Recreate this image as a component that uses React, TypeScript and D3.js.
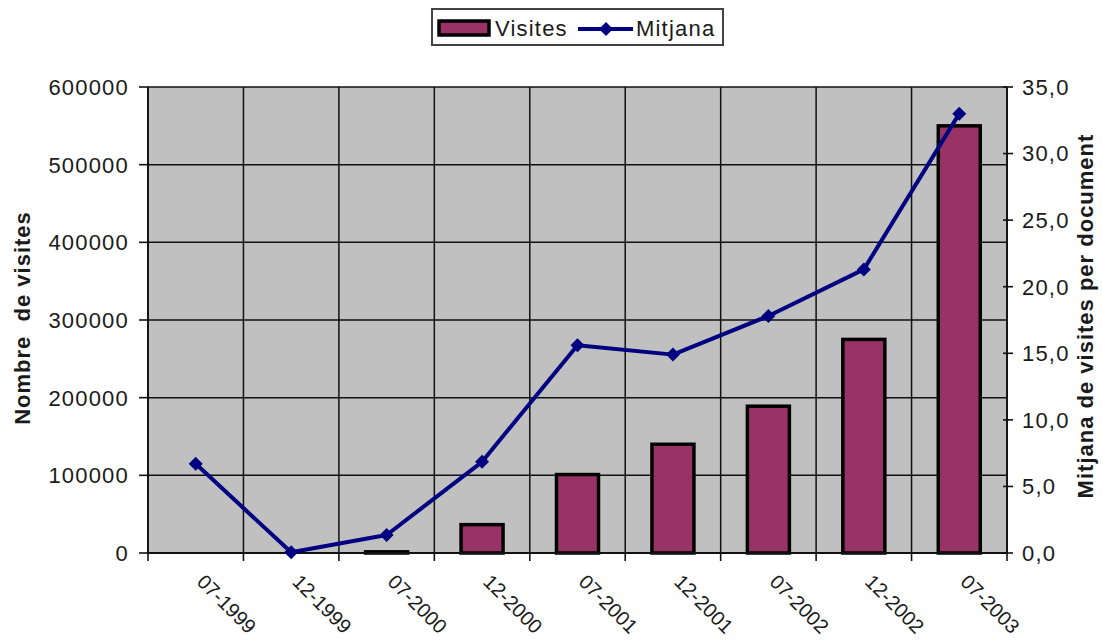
import React from "react";
import * as d3 from "d3";

const categories = ["07-1999", "12-1999", "07-2000", "12-2000", "07-2001", "12-2001", "07-2002", "12-2002", "07-2003"];
const visites: (number | null)[] = [null, null, 1500, 36500, 101000, 140000, 189000, 275000, 550000];
const mitjana = [6.7, 0.05, 1.35, 6.85, 15.6, 14.9, 17.8, 21.3, 33.0];
const leftTicks = [0, 100000, 200000, 300000, 400000, 500000, 600000];
const rightTicks = [0, 5, 10, 15, 20, 25, 30, 35];

const W = 1103, H = 641;
const L = 148, R = 1007, T = 87, B = 553;
const FONT = "'Liberation Sans', Arial, sans-serif";
const TXT = "#1a1a1a";

export default function App() {
  const x = d3.scaleBand<string>().domain(categories).range([L, R]).padding(0);
  const yL = d3.scaleLinear().domain([0, 600000]).range([B, T]);
  const yR = d3.scaleLinear().domain([0, 35]).range([B, T]);
  const bw = x.bandwidth() * 0.44;
  const cx = (c: string) => (x(c) as number) + x.bandwidth() / 2;
  const line = d3
    .line<number>()
    .x((_, i) => cx(categories[i]))
    .y((d) => yR(d));
  const diamond = "M0,-7L7,0L0,7L-7,0Z";
  const fmtR = (v: number) => d3.format(".1f")(v).replace(".", ",");
  const boundaries = categories.map((c) => x(c) as number).concat([R]);

  return (
    <svg width={W} height={H} style={{ position: "absolute", left: 0, top: 0, background: "#fff" }} fontFamily={FONT}>
      <rect x={L} y={T} width={R - L} height={B - T} fill="#c0c0c0" />
      {leftTicks.map((t) => (
        <line key={"h" + t} x1={L} x2={R} y1={yL(t)} y2={yL(t)} stroke="#111" strokeWidth={1.5} />
      ))}
      {boundaries.map((b, i) => (
        <line key={"v" + i} x1={b} x2={b} y1={T} y2={B} stroke="#111" strokeWidth={1.5} />
      ))}
      {categories.map((c, i) => {
        const v = visites[i];
        if (v == null) return null;
        return (
          <rect
            key={"b" + c}
            x={cx(c) - bw / 2}
            y={yL(v)}
            width={bw}
            height={B - yL(v)}
            fill="#993366"
            stroke="#000"
            strokeWidth={3.5}
          />
        );
      })}
      <line x1={L} x2={L} y1={T} y2={B} stroke="#111" strokeWidth={1.8} />
      <line x1={R} x2={R} y1={T} y2={B} stroke="#111" strokeWidth={1.8} />
      <line x1={L} x2={R} y1={B} y2={B} stroke="#111" strokeWidth={1.8} />
      {leftTicks.map((t) => (
        <g key={"lt" + t}>
          <line x1={L - 9} x2={L} y1={yL(t)} y2={yL(t)} stroke="#111" strokeWidth={1.6} />
          <text x={129} y={yL(t)} dy="0.36em" textAnchor="end" fontSize={22} letterSpacing={1.2} fill={TXT}>
            {t}
          </text>
        </g>
      ))}
      {rightTicks.map((t) => (
        <g key={"rt" + t}>
          <line x1={R - 4} x2={R + 6} y1={yR(t)} y2={yR(t)} stroke="#111" strokeWidth={1.6} />
          <text x={1022} y={yR(t)} dy="0.36em" textAnchor="start" fontSize={22} letterSpacing={1.2} fill={TXT}>
            {fmtR(t)}
          </text>
        </g>
      ))}
      {boundaries.map((b, i) => (
        <line key={"bt" + i} x1={b} x2={b} y1={B} y2={B + 8} stroke="#111" strokeWidth={1.6} />
      ))}
      {categories.map((c) => (
        <text
          key={"xl" + c}
          transform={`translate(${cx(c)},${583}) rotate(45)`}
          fontSize={20}
          fill={TXT}
        >
          {c}
        </text>
      ))}
      <path d={line(mitjana) || ""} fill="none" stroke="#000080" strokeWidth={4} strokeLinejoin="round" />
      {mitjana.map((v, i) => (
        <path key={"m" + i} d={diamond} transform={`translate(${cx(categories[i])},${yR(v)})`} fill="#000080" />
      ))}
      <text
        transform={`translate(30,318) rotate(-90)`}
        textAnchor="middle"
        fontSize={22}
        fontWeight="bold"
        letterSpacing={1}
        fill={TXT}
        style={{ whiteSpace: "pre" }}
      >
        {"Nombre  de visites"}
      </text>
      <text
        transform={`translate(1093,316) rotate(-90)`}
        textAnchor="middle"
        fontSize={22}
        fontWeight="bold"
        letterSpacing={1}
        fill={TXT}
      >
        Mitjana de visites per document
      </text>
      <rect x={432} y={9} width={291} height={36} fill="#fff" stroke="#444" strokeWidth={2} />
      <rect x={439} y={21} width={50} height={14} fill="#993366" stroke="#000" strokeWidth={3.5} />
      <text x={495} y={28} dy="0.36em" fontSize={22} letterSpacing={1.2} fill={TXT}>
        Visites
      </text>
      <line x1={578} x2={633} y1={29} y2={29} stroke="#000080" strokeWidth={4} />
      <path d={diamond} transform="translate(606,29)" fill="#000080" />
      <text x={636} y={28} dy="0.36em" fontSize={22} letterSpacing={1.2} fill={TXT}>
        Mitjana
      </text>
    </svg>
  );
}
